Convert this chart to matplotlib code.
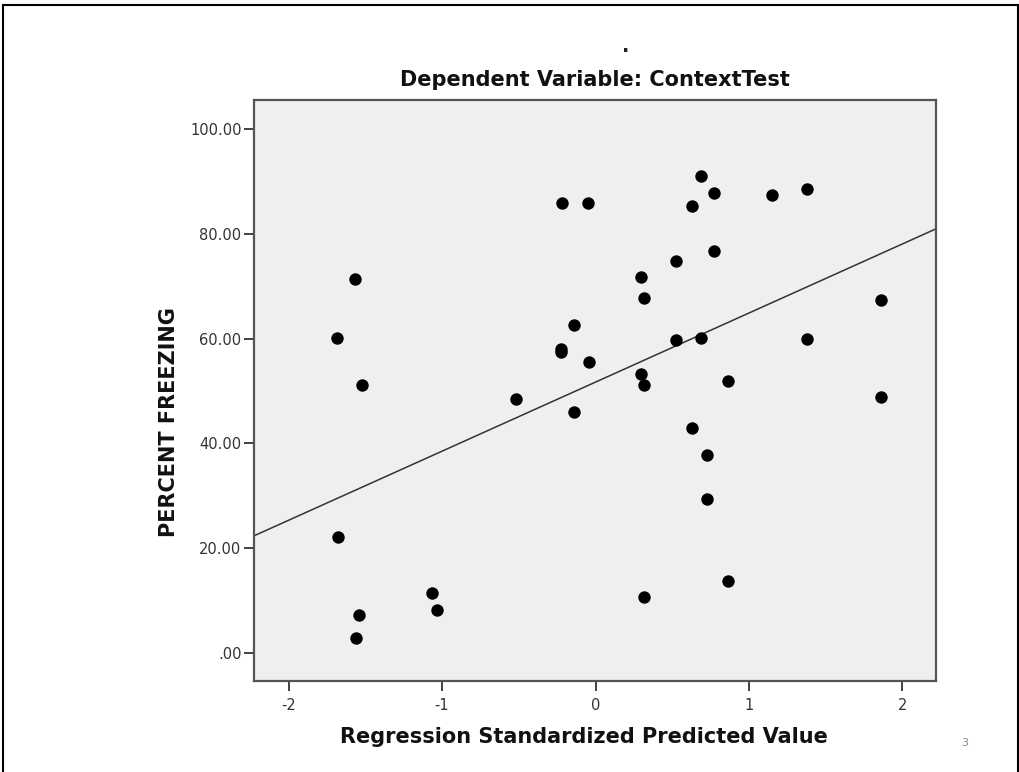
import matplotlib
matplotlib.use("Agg")
import matplotlib.pyplot as plt
from matplotlib.lines import Line2D
from matplotlib.ticker import FuncFormatter

# standardized predicted value vs. observed percent freezing
zpred = [-1.684, -1.564, -1.523, -1.679, -1.539, -1.563, -1.064, -1.031,
         -0.520, -0.220, -0.047, -0.140, -0.223, -0.227, -0.045, -0.140,
         0.296, 0.314, 0.296, 0.317, 0.319, 0.522, 0.522, 0.627, 0.687,
         0.770, 0.770, 0.687, 0.627, 0.724, 0.724, 0.864, 0.864, 1.152,
         1.378, 1.378, 1.858, 1.858]
freezing = [60.1, 71.4, 51.1, 22.2, 7.2, 2.9, 11.4, 8.2,
            48.4, 85.9, 85.9, 62.7, 58.1, 57.4, 55.6, 46.0,
            71.7, 67.8, 53.2, 51.1, 10.7, 74.8, 59.8, 85.4, 91.0,
            87.9, 76.7, 60.2, 43.0, 37.7, 29.3, 52.0, 13.7, 87.4,
            88.6, 59.9, 67.3, 48.8]

# fit line (total)
fit_intercept = 51.7
fit_slope = 13.2

x_ticks = [-2, -1, 0, 1, 2]
y_ticks = [0, 20, 40, 60, 80, 100]


def spss_fmt(v, pos):
    s = "%.2f" % v
    return s[1:] if s.startswith("0") else s


fig = plt.figure(figsize=(10.2, 7.72), dpi=100)
ax = fig.add_axes([0.249, 0.1179, 0.6686, 0.7526])
ax.set_facecolor("#efefef")

ax.scatter(zpred, freezing, s=80, color="black", zorder=3, linewidths=0)
ax.axline((0, fit_intercept), slope=fit_slope, color="#333333", lw=1.1, zorder=2)

ax.set_xlim(-2.225, 2.218)
ax.set_ylim(-5.4, 105.6)
ax.set_xticks(x_ticks)
ax.set_yticks(y_ticks)
ax.yaxis.set_major_formatter(FuncFormatter(spss_fmt))
ax.xaxis.set_major_formatter(FuncFormatter(lambda v, p: "%d" % v))

for side in ["left", "right", "top", "bottom"]:
    ax.spines[side].set_color("#555555")
    ax.spines[side].set_linewidth(1.6)
ax.tick_params(axis="both", direction="out", length=7, width=1.3,
               color="#333333", labelcolor="#333333", labelsize=10.5)
ax.tick_params(axis="y", pad=2)
ax.tick_params(axis="x", pad=5)

ax.set_xlabel("Regression Standardized Predicted Value", fontsize=15,
              fontweight="bold", color="#111111")
ax.set_ylabel("PERCENT FREEZING", fontsize=15, fontweight="bold",
              color="#111111")
ax.xaxis.set_label_coords(0.484, -0.08)
ax.yaxis.set_label_coords(-0.11, 0.446)
ax.set_title("Dependent Variable: ContextTest", fontsize=15,
             fontweight="bold", color="#111111", pad=10)

fig.text(626 / 1020, 1 - 46 / 772, ".", fontsize=14, fontweight="bold",
         ha="center", va="center", color="#222222")
fig.text(965 / 1020, 1 - 743 / 772, "3", fontsize=8, color="#888888",
         ha="center", va="center")

# slide border
for xs, ys in [([3, 3], [5, 772]), ([3, 1018], [5, 5]), ([1018, 1018], [5, 772])]:
    fig.add_artist(Line2D([x / 1020 for x in xs], [1 - y / 772 for y in ys],
                          color="black", lw=1.5))

fig.savefig("out.png", dpi=100)
